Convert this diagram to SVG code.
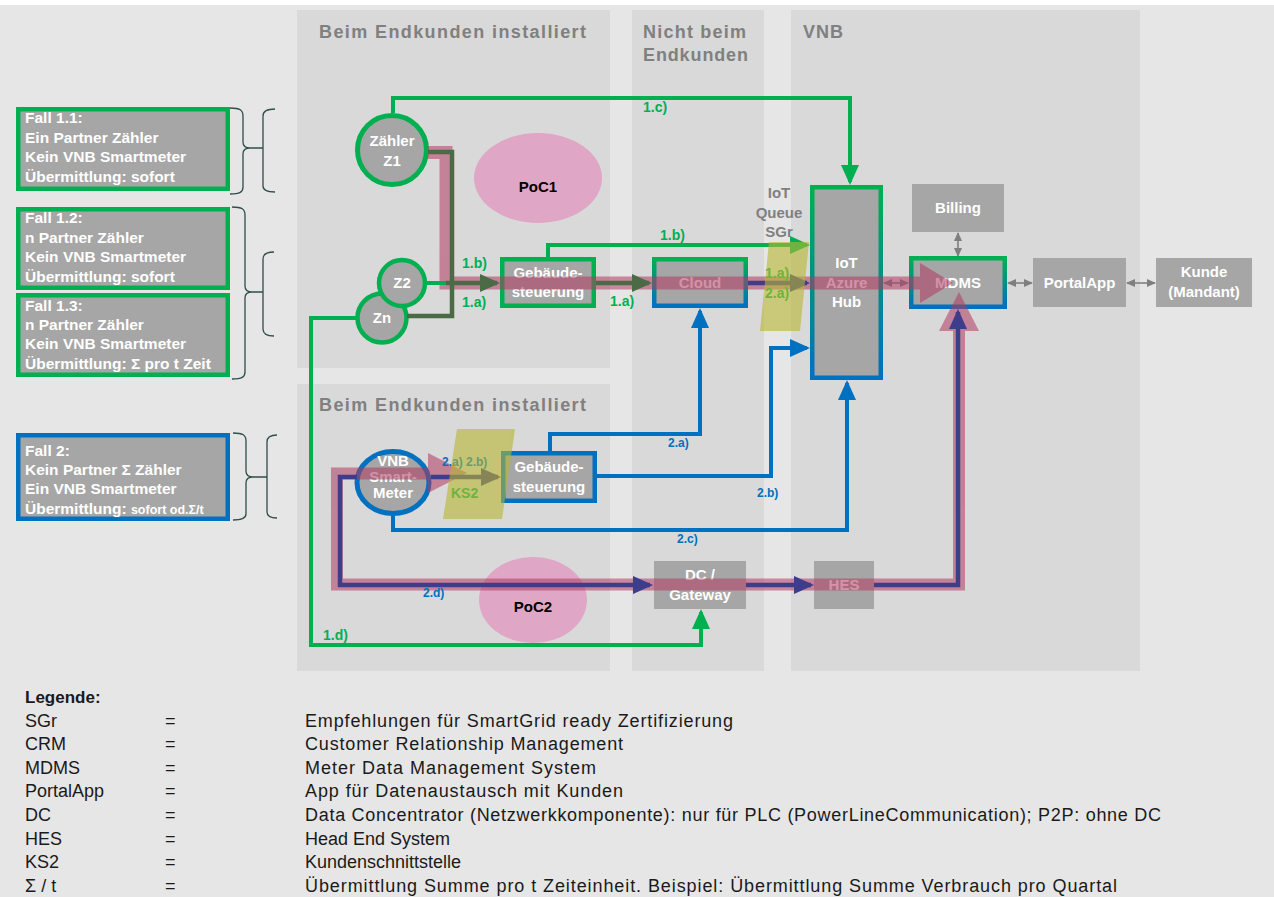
<svg xmlns="http://www.w3.org/2000/svg" width="1274" height="897" viewBox="0 0 1274 897">
<defs>
<style>
text{font-family:'Liberation Sans',Arial,sans-serif}
.panel{fill:#d9d9d9}
.ptitle{fill:#808080;font-weight:bold;font-size:18px}
.box{fill:#a6a6a6}
.wb{fill:#fff;font-weight:bold;font-size:15px;text-anchor:middle}
.fall{fill:#fff;font-weight:bold;font-size:15.5px}
.brace{fill:none;stroke:#2f4f4a;stroke-width:1.3}
.g{stroke:#00b050;stroke-width:4;fill:none}
.b{stroke:#0070c0;stroke-width:4;fill:none}
.n{stroke:#3d3d8c;stroke-width:4.5;fill:none}
.d{stroke:#4a6b46;stroke-width:4.5;fill:none}
.gy{stroke:#7f7f7f;stroke-width:1.6;fill:none}
.lg{fill:#00b050;font-weight:bold;font-size:14px}
.lb{fill:#0070c0;font-weight:bold;font-size:12px}
.leg{fill:#1a1a1a;font-size:18px}
.poc{fill:#e0a6c6}
.poct{fill:#000;font-weight:bold;font-size:15px;text-anchor:middle}
</style>
<linearGradient id="gb" x1="0" y1="0" x2="0" y2="1">
<stop offset="0" stop-color="#00b050"/>
<stop offset="1" stop-color="#0070c0"/>
</linearGradient>
<marker id="mG" viewBox="0 0 20 18" markerWidth="20" markerHeight="18" refX="17" refY="9" orient="auto" markerUnits="userSpaceOnUse"><path d="M0,0 L20,9 L0,18 z" fill="#00b050"/></marker>
<marker id="mB" viewBox="0 0 20 18" markerWidth="20" markerHeight="18" refX="17" refY="9" orient="auto" markerUnits="userSpaceOnUse"><path d="M0,0 L20,9 L0,18 z" fill="#0070c0"/></marker>
<marker id="mN" viewBox="0 0 20 18" markerWidth="20" markerHeight="18" refX="17" refY="9" orient="auto" markerUnits="userSpaceOnUse"><path d="M0,0 L20,9 L0,18 z" fill="#3d3d8c"/></marker>
<marker id="mD" viewBox="0 0 20 18" markerWidth="20" markerHeight="18" refX="17" refY="9" orient="auto" markerUnits="userSpaceOnUse"><path d="M0,0 L20,9 L0,18 z" fill="#4a6b46"/></marker>
<marker id="mS" viewBox="0 0 9 8" markerWidth="9" markerHeight="8" refX="8" refY="4" orient="auto-start-reverse" markerUnits="userSpaceOnUse"><path d="M0,0 L9,4 L0,8 z" fill="#7f7f7f"/></marker>
<marker id="mP" viewBox="0 0 9 8" markerWidth="9" markerHeight="8" refX="8" refY="4" orient="auto-start-reverse" markerUnits="userSpaceOnUse"><path d="M0,0 L9,4 L0,8 z" fill="#9a596e"/></marker>
</defs>

<rect x="0" y="0" width="1274" height="897" fill="#ffffff"/>
<rect x="0" y="5" width="1274" height="892" fill="#e6e6e6"/>

<g id="panels">
<rect class="panel" x="297" y="10" width="313" height="358"/>
<rect class="panel" x="297" y="384" width="313" height="287"/>
<rect class="panel" x="632" y="10" width="132" height="661"/>
<rect class="panel" x="791" y="10" width="349" height="661"/>
<text class="ptitle" x="319" y="38" textLength="267" lengthAdjust="spacing">Beim Endkunden installiert</text>
<text class="ptitle" x="319" y="411" textLength="267" lengthAdjust="spacing">Beim Endkunden installiert</text>
<text class="ptitle" x="643" y="38" textLength="103" lengthAdjust="spacing">Nicht beim</text>
<text class="ptitle" x="643" y="61" textLength="105" lengthAdjust="spacing">Endkunden</text>
<text class="ptitle" x="803" y="38" textLength="40" lengthAdjust="spacing">VNB</text>
</g>

<g id="fall11">
<rect x="18.25" y="109.25" width="209.5" height="79.5" fill="#a6a6a6" stroke="#00b050" stroke-width="4.5"/>
<text class="fall" x="25" y="123">Fall 1.1:</text>
<text class="fall" x="25" y="143">Ein Partner Zähler</text>
<text class="fall" x="25" y="162">Kein VNB Smartmeter</text>
<text class="fall" x="25" y="182">Übermittlung: sofort</text>
</g>
<g id="fall12">
<rect x="18.25" y="209.25" width="209.5" height="78.5" fill="#a6a6a6" stroke="#00b050" stroke-width="4.5"/>
<text class="fall" x="25" y="223">Fall 1.2:</text>
<text class="fall" x="25" y="243">n Partner Zähler</text>
<text class="fall" x="25" y="262">Kein VNB Smartmeter</text>
<text class="fall" x="25" y="282">Übermittlung: sofort</text>
</g>
<g id="fall13">
<rect x="18.25" y="295.25" width="209.5" height="79.5" fill="#a6a6a6" stroke="#00b050" stroke-width="4.5"/>
<text class="fall" x="25" y="311">Fall 1.3:</text>
<text class="fall" x="25" y="330">n Partner Zähler</text>
<text class="fall" x="25" y="349">Kein VNB Smartmeter</text>
<text class="fall" x="25" y="369">Übermittlung: Σ pro t Zeit</text>
</g>
<g id="fall2">
<rect x="18.25" y="435.25" width="209.5" height="83.5" fill="#a6a6a6" stroke="#0070c0" stroke-width="4.5"/>
<text class="fall" x="25" y="456">Fall 2:</text>
<text class="fall" x="25" y="475">Kein Partner Σ Zähler</text>
<text class="fall" x="25" y="494">Ein VNB Smartmeter</text>
<text class="fall" x="25" y="514">Übermittlung: <tspan font-size="12.5px">sofort od.Σ/t</tspan></text>
</g>

<g id="braces">
<path class="brace" d="M230,108 C240,108 243,110 243,116 L243,142 C243,146 245,148 250,148 C245,148 243,150 243,154 L243,187 C243,192 240,194 230,194 M250,148 H263 M275,109 C267,109 263,111 263,116 L263,186 C263,190 267,192 275,192"/>
<path class="brace" d="M232,207 C242,207 245,209 245,215 L245,286 C245,290 247,292 252,292 C247,292 245,294 245,298 L245,372 C245,377 242,379 232,379 M252,292 H263 M274,252 C267,252 263,254 263,259 L263,329 C263,334 267,336 274,336"/>
<path class="brace" d="M233,433 C243,433 246,435 246,441 L246,471 C246,475 248,477 253,477 C248,477 246,479 246,483 L246,514 C246,518 243,520 233,520 M253,477 H267 M277,435 C270,435 267,437 267,442 L267,512 C267,516 270,518 277,518"/>
</g>

<g id="poc1"><ellipse class="poc" cx="538" cy="178" rx="64" ry="45"/><text class="poct" x="538" y="192">PoC1</text></g>
<g id="poc2"><ellipse class="poc" cx="533" cy="600" rx="54" ry="43"/><text class="poct" x="533" y="612">PoC2</text></g>

<g id="z1"><circle cx="392" cy="150" r="34.5" fill="#a6a6a6" stroke="#00b050" stroke-width="5"/><text class="wb" x="392" y="146">Zähler</text><text class="wb" x="392" y="166">Z1</text></g>
<g id="zn"><circle cx="382" cy="318" r="24.5" fill="#a6a6a6" stroke="#00b050" stroke-width="4.5"/><text class="wb" x="382" y="323">Zn</text></g>
<g id="z2"><circle cx="402" cy="283" r="23" fill="#a6a6a6" stroke="#00b050" stroke-width="4.5"/><text class="wb" x="402" y="288">Z2</text></g>
<g id="smartmeter"><ellipse cx="393" cy="482.5" rx="36" ry="31" fill="#a6a6a6" stroke="#0070c0" stroke-width="5"/><text class="wb" x="393" y="466" font-size="12px">VNB</text><text class="wb" x="393" y="482" font-size="12px">Smart-</text><text class="wb" x="393" y="498" font-size="12px">Meter</text></g>

<g id="geb1"><rect x="502.25" y="259.25" width="91.5" height="46.5" fill="#a6a6a6" stroke="#00b050" stroke-width="4.5"/><text class="wb" x="548" y="278">Gebäude-</text><text class="wb" x="548" y="297">steuerung</text></g>
<g id="geb2"><rect x="503.25" y="453.25" width="91.5" height="47.5" fill="#a6a6a6" stroke="#0070c0" stroke-width="4.5"/><text class="wb" x="549" y="472">Gebäude-</text><text class="wb" x="549" y="492">steuerung</text></g>
<g id="cloud"><rect x="654.25" y="259.25" width="91.5" height="46.5" fill="#a6a6a6" stroke="url(#gb)" stroke-width="4.5"/><text class="wb" x="700" y="288">Cloud</text></g>
<g id="iothub"><rect x="812.25" y="187.25" width="68.5" height="190.5" fill="#a6a6a6" stroke="url(#gb)" stroke-width="4.5"/><text class="wb" x="846.5" y="268">IoT</text><text class="wb" x="846.5" y="288">Azure</text><text class="wb" x="846.5" y="307">Hub</text></g>
<g id="queue"><text fill="#808080" font-weight="bold" font-size="15px" text-anchor="middle" x="779" y="198">IoT</text><text fill="#808080" font-weight="bold" font-size="15px" text-anchor="middle" x="779" y="218">Queue</text><text fill="#808080" font-weight="bold" font-size="15px" text-anchor="middle" x="779" y="237">SGr</text></g>
<g id="billing"><rect class="box" x="912" y="184" width="92" height="48"/><text class="wb" x="958" y="213">Billing</text></g>
<g id="mdms"><rect x="911.25" y="258.25" width="93.5" height="48.5" fill="#a6a6a6" stroke="url(#gb)" stroke-width="4.5"/><text class="wb" x="958" y="288">MDMS</text></g>
<g id="portalapp"><rect class="box" x="1033" y="258" width="93" height="49"/><text class="wb" x="1079.5" y="288">PortalApp</text></g>
<g id="kunde"><rect class="box" x="1156" y="258" width="96" height="49"/><text class="wb" x="1204" y="277">Kunde</text><text class="wb" x="1204" y="297">(Mandant)</text></g>
<g id="dc"><rect class="box" x="654" y="561" width="92" height="48"/><text class="wb" x="700" y="580">DC /</text><text class="wb" x="700" y="600">Gateway</text></g>
<g id="hes"><rect class="box" x="814" y="561" width="60" height="48"/><text class="wb" x="844" y="590">HES</text></g>

<g id="highlight" opacity="0.55" fill="#b03a60">
<path d="M428,152.5 H446 V283 H921" fill="none" stroke="#b03a60" stroke-width="13"/>
<path d="M920,263 L953,283 L920,303 z"/>
<path d="M430,473.5 H337 V584.5 H959 V331" fill="none" stroke="#b03a60" stroke-width="12"/>
<path d="M428,453 L467,473 L428,493 z"/>
<path d="M939,331 L959,292 L979,331 z"/>
</g>

<g id="connectors">
<path class="g" d="M393,113 V98 H850 V182" marker-end="url(#mG)"/>
<path class="g" d="M548,257 V245 H807" marker-end="url(#mG)"/>
<path class="g" d="M426,283 H446"/>
<path class="d" d="M428,152 H452 V316 H407"/>
<path class="d" d="M446,283 H497" marker-end="url(#mD)"/>
<path class="d" d="M596,283 H649" marker-end="url(#mD)"/>
<path class="n" d="M748,283 H807" marker-end="url(#mN)"/>
<path class="g" d="M357,318 H311 V645 H701 V612" marker-end="url(#mG)"/>
<path class="b" d="M550,451 V434 H700 V311" marker-end="url(#mB)"/>
<path class="b" d="M597,476 H771 V348 H807" marker-end="url(#mB)"/>
<path class="b" d="M393,513 V530 H847 V383" marker-end="url(#mB)"/>
<path class="n" d="M357,477 H340 V585 H650" marker-end="url(#mN)"/>
<path class="n" d="M431,477 H498" marker-end="url(#mN)"/>
<path class="n" d="M746,585 H811" marker-end="url(#mN)"/>
<path class="n" d="M874,585 H958 V312" marker-end="url(#mN)"/>
<path d="M884,283 H908" stroke="#9a596e" stroke-width="1.6" marker-start="url(#mP)" marker-end="url(#mP)"/>
<path class="gy" d="M958,233 V256" marker-start="url(#mS)" marker-end="url(#mS)"/>
<path class="gy" d="M1008,283 H1032" marker-start="url(#mS)" marker-end="url(#mS)"/>
<path class="gy" d="M1127,283 H1155" marker-start="url(#mS)" marker-end="url(#mS)"/>
<text class="lg" x="643" y="112">1.c)</text>
<text class="lg" x="660" y="240">1.b)</text>
<text class="lg" x="462" y="268">1.b)</text>
<text class="lg" x="462" y="307">1.a)</text>
<text class="lg" x="610" y="306">1.a)</text>
<text class="lg" x="765" y="278">1.a)</text>
<text class="lg" x="765" y="298" fill="#0070c0">2.a)</text>
<text class="lg" x="323" y="640">1.d)</text>
<text class="lb" x="668" y="447">2.a)</text>
<text class="lb" x="757" y="497">2.b)</text>
<text class="lb" x="677" y="543">2.c)</text>
<text class="lb" x="423" y="597">2.d)</text>
<text class="lb" x="442" y="466" font-size="13px">2.a) 2.b)</text>
<text class="lg" x="451" y="498" font-size="13px">KS2</text>
</g>

<g id="ks2-and-queue" opacity="0.6" fill="#b5b530">
<path d="M457,429 L515,429 L502,519 L443,519 z"/>
<path d="M769,242 L809,242 L800,331 L760,331 z"/>
</g>

<g id="legend">
<text x="25" y="703" font-weight="bold" font-size="17px" fill="#1a1a1a">Legende:</text>
<text class="leg" x="25" y="726.6">SGr</text>
<text class="leg" x="25" y="750.2">CRM</text>
<text class="leg" x="25" y="773.8">MDMS</text>
<text class="leg" x="25" y="797.4">PortalApp</text>
<text class="leg" x="25" y="821">DC</text>
<text class="leg" x="25" y="844.6">HES</text>
<text class="leg" x="25" y="868.2">KS2</text>
<text class="leg" x="25" y="891.8">Σ / t</text>
<text class="leg" x="165" y="726.6">=</text>
<text class="leg" x="165" y="750.2">=</text>
<text class="leg" x="165" y="773.8">=</text>
<text class="leg" x="165" y="797.4">=</text>
<text class="leg" x="165" y="821">=</text>
<text class="leg" x="165" y="844.6">=</text>
<text class="leg" x="165" y="868.2">=</text>
<text class="leg" x="165" y="891.8">=</text>
<text class="leg" x="305" y="726.6" textLength="428" lengthAdjust="spacing">Empfehlungen für SmartGrid ready Zertifizierung</text>
<text class="leg" x="305" y="750.2" textLength="318" lengthAdjust="spacing">Customer Relationship Management</text>
<text class="leg" x="305" y="773.8" textLength="291" lengthAdjust="spacing">Meter Data Management System</text>
<text class="leg" x="305" y="797.4" textLength="318" lengthAdjust="spacing">App für Datenaustausch mit Kunden</text>
<text class="leg" x="305" y="821" textLength="856" lengthAdjust="spacing">Data Concentrator (Netzwerkkomponente): nur für PLC (PowerLineCommunication); P2P: ohne DC</text>
<text class="leg" x="305" y="844.6">Head End System</text>
<text class="leg" x="305" y="868.2">Kundenschnittstelle</text>
<text class="leg" x="305" y="891.8" textLength="812" lengthAdjust="spacing">Übermittlung Summe pro t Zeiteinheit. Beispiel: Übermittlung Summe Verbrauch pro Quartal</text>
</g>
</svg>
